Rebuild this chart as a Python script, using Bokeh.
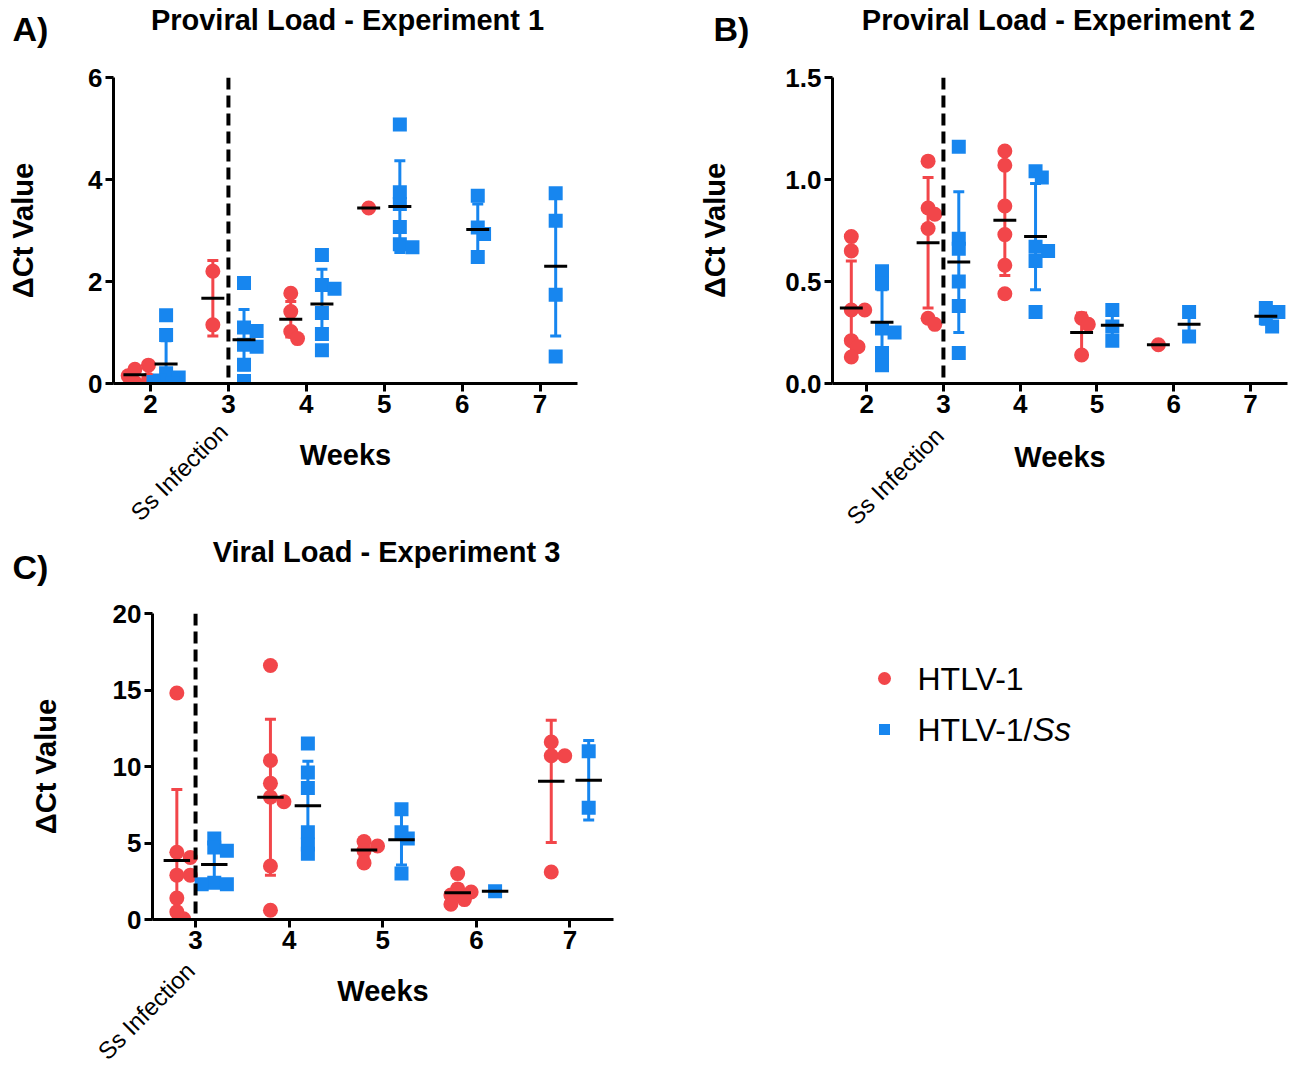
import math
from bokeh.plotting import figure
from bokeh.models import Span, Label, Range1d, FixedTicker, NumeralTickFormatter, LinearAxis
from bokeh.layouts import column, row
from bokeh.embed import file_html
from bokeh.resources import INLINE

FONT = "Liberation Sans"
RED = "#F2464A"
BLUE = "#1786EF"

infection_week = 3
infection_label = "Ss Infection"
x_label = "Weeks"
y_label = "\u0394Ct Value"
series_names = ["HTLV-1", "HTLV-1/", "Ss"]
titles = ["Proviral Load - Experiment 1", "Proviral Load -  Experiment 2", "Viral Load - Experiment 3"]
letters = ["A)", "B)", "C)"]

# ---------------- Panel A: Proviral Load - Experiment 1 ----------------
A_weeks = [2, 3, 4, 5, 6, 7]
A_htlv = [[0.02, 0.08, 0.15, 0.28, 0.36], [2.20, 1.15], [1.77, 1.41, 1.02, 0.88], [3.44], [], []]
A_htlv_mean = [0.17, 1.67, 1.26, 3.44, None, None]
A_htlv_sd = [0.14, 0.74, 0.35, 0.0, None, None]
A_ss = [[1.34, 0.95, 0.20, 0.12, 0.06, 0.03, 0.0],
        [1.97, 1.10, 1.03, 0.76, 0.72, 0.37, 0.05],
        [2.52, 1.93, 1.86, 1.38, 0.97, 0.65],
        [5.08, 3.75, 3.52, 3.07, 2.73, 2.67],
        [3.68, 3.06, 2.93, 2.48],
        [3.73, 3.19, 1.74, 0.53]]
A_ss_mean = [0.38, 0.86, 1.56, 3.47, 3.02, 2.30]
A_ss_sd = [0.46, 0.59, 0.68, 0.90, 0.50, 1.37]
A_yticks = [0, 2, 4, 6]

# ---------------- Panel B: Proviral Load - Experiment 2 ----------------
B_weeks = [2, 3, 4, 5, 6, 7]
B_htlv = [[0.72, 0.65, 0.36, 0.36, 0.21, 0.18, 0.13],
          [1.09, 0.86, 0.83, 0.76, 0.32, 0.29],
          [1.14, 1.07, 0.87, 0.73, 0.58, 0.44],
          [0.32, 0.29, 0.14],
          [0.19],
          []]
B_htlv_mean = [0.37, 0.69, 0.80, 0.25, 0.19, None]
B_htlv_sd = [0.23, 0.32, 0.27, 0.095, 0.0, None]
B_ss = [[0.55, 0.49, 0.27, 0.25, 0.15, 0.09],
        [1.16, 0.71, 0.66, 0.50, 0.38, 0.15],
        [1.04, 1.01, 0.67, 0.65, 0.60, 0.35],
        [0.36, 0.28, 0.21],
        [0.35, 0.23],
        [0.37, 0.35, 0.32, 0.28]]
B_ss_mean = [0.30, 0.595, 0.72, 0.285, 0.29, 0.33]
B_ss_sd = [0.16, 0.345, 0.26, 0.05, 0.06, 0.04]
B_yticks = [0, 0.5, 1.0, 1.5]

# ---------------- Panel C: Viral Load - Experiment 3 ----------------
C_weeks = [3, 4, 5, 6, 7]
C_htlv = [[14.8, 4.4, 4.05, 2.9, 2.9, 1.4, 0.5, 0.05],
          [16.6, 10.4, 8.9, 8.0, 7.7, 3.5, 0.6],
          [5.1, 4.8, 4.5, 3.7],
          [3.0, 2.0, 1.8, 1.6, 1.3, 1.0],
          [11.6, 10.7, 10.7, 3.1]]
C_htlv_mean = [3.85, 7.99, 4.55, 1.75, 9.03]
C_htlv_sd = [4.65, 5.1, 0.5, 0.5, 4.0]
C_ss = [[5.3, 4.7, 4.5, 2.4, 2.3, 2.3],
        [11.5, 9.6, 8.6, 5.7, 4.9, 4.3],
        [7.2, 5.7, 5.3, 3.0],
        [1.85],
        [11.0, 7.3]]
C_ss_mean = [3.59, 7.44, 5.22, 1.85, 9.1]
C_ss_sd = [1.39, 2.9, 1.65, 0.0, 2.6]
C_yticks = [0, 5, 10, 15, 20]


def style_axis(ax):
    ax.axis_line_width = 3
    ax.axis_line_color = "black"
    ax.major_tick_line_width = 3
    ax.major_tick_line_color = "black"
    ax.major_tick_out = 8
    ax.major_tick_in = 0
    ax.minor_tick_line_color = None
    ax.major_label_text_font = FONT
    ax.major_label_text_font_size = "26px"
    ax.major_label_text_font_style = "bold"
    ax.major_label_text_color = "black"
    ax.major_label_standoff = 3
    ax.axis_label_text_font = FONT
    ax.axis_label_text_font_size = "29px"
    ax.axis_label_text_font_style = "bold"
    ax.axis_label_text_color = "black"


def spread(vals, ppu_y, ppu_x, size):
    placed, offs = [], []
    for v in vals:
        y = v * ppu_y
        xo = 0.0
        for k in [0, 1, -1, 2, -2]:
            xo = k * size * 0.45
            if all((xo - px) ** 2 + (y - py) ** 2 >= (size * 0.6) ** 2 for px, py in placed):
                break
        placed.append((xo, y))
        offs.append(xo / ppu_x)
    return offs


def make_panel(g, weeks, red, red_m, red_sd, blue, blue_m, blue_sd, yticks, fmt=None):
    xr, yr = g["xr"], g["yr"]
    p = figure(width=g["w"], height=g["h"],
               min_border_left=g["left"], min_border_right=g["right"],
               min_border_top=g["top"], min_border_bottom=g["bottom"],
               x_range=Range1d(*xr), y_range=Range1d(*yr),
               output_backend="svg", toolbar_location=None, tools="")
    p.xgrid.visible = False
    p.ygrid.visible = False
    p.outline_line_color = None
    p.xaxis.ticker = FixedTicker(ticks=weeks)
    p.yaxis.ticker = FixedTicker(ticks=yticks)
    if fmt:
        p.yaxis.formatter = NumeralTickFormatter(format=fmt)
    p.yaxis.axis_label = y_label
    style_axis(p.xaxis[0])
    style_axis(p.yaxis[0])
    p.yaxis[0].axis_label_standoff = g["ystand"]

    fw = g["w"] - g["left"] - g["right"]
    fh = g["h"] - g["top"] - g["bottom"]
    ppu_x = fw / (xr[1] - xr[0])
    ppu_y = fh / (yr[1] - yr[0])

    # rotated infection label + "Weeks" title on a secondary, line-less axis
    lab_at = infection_week + g["ssdx"] / ppu_x
    ax2 = LinearAxis(ticker=FixedTicker(ticks=[lab_at]),
                     major_label_overrides={lab_at: infection_label},
                     major_label_orientation=math.pi / 4,
                     axis_line_color=None, major_tick_line_color=None,
                     minor_tick_line_color=None, major_tick_out=0, major_tick_in=0,
                     major_label_standoff=g["s2"],
                     major_label_text_font=FONT, major_label_text_font_size="24px",
                     major_label_text_color="black",
                     axis_label=x_label, axis_label_standoff=g["t2"],
                     axis_label_text_font=FONT, axis_label_text_font_size="29px",
                     axis_label_text_font_style="bold", axis_label_text_color="black")
    p.add_layout(ax2, "below")

    dodge = 0.2
    mean_hw = 11.5 / ppu_x * g.get("mscale", 1.0)
    cap_hw = 5.5 / ppu_x

    p.add_layout(Span(location=infection_week, dimension="height", line_color="black",
                      line_width=4, line_dash="12 6"))

    for pts, means, sds, sign, color, marker, size in [
        (red, red_m, red_sd, -1, RED, "circle", 15),
        (blue, blue_m, blue_sd, 1, BLUE, "square", 14),
    ]:
        ex, ey0, ey1, cx0, cx1, cy = [], [], [], [], [], []
        sx, sy = [], []
        mx0, mx1, my = [], [], []
        for wk, vals, m, sd in zip(weeks, pts, means, sds):
            if not vals:
                continue
            xc = wk + sign * dodge
            offs = spread(vals, ppu_y, ppu_x, size)
            sx += [xc + o for o in offs]
            sy += vals
            if m is None:
                continue
            mx0.append(xc - mean_hw); mx1.append(xc + mean_hw); my.append(m)
            if sd and sd > 0:
                ex.append(xc); ey0.append(m - sd); ey1.append(m + sd)
                for yy in (m - sd, m + sd):
                    cx0.append(xc - cap_hw); cx1.append(xc + cap_hw); cy.append(yy)
        p.segment(x0=ex, y0=ey0, x1=ex, y1=ey1, line_color=color, line_width=3)
        p.segment(x0=cx0, y0=cy, x1=cx1, y1=cy, line_color=color, line_width=3)
        p.scatter(sx, sy, marker=marker, size=size, fill_color=color, line_color=None)
        p.segment(x0=mx0, y0=my, x1=mx1, y1=my, line_color="black", line_width=3)
    return p


def blank(w, h, top=0, bottom=0):
    # frame covers [top, h - bottom] in local pixel coordinates (y downwards)
    f = figure(width=w, height=h, x_range=Range1d(0, w), y_range=Range1d(h - bottom, top),
               min_border_left=0, min_border_right=0, min_border_top=top, min_border_bottom=bottom,
               x_axis_type=None, y_axis_type=None,
               output_backend="svg", toolbar_location=None, tools="")
    f.xgrid.visible = False
    f.ygrid.visible = False
    f.outline_line_color = None
    return f


def add_letter(f, text, x, y):
    f.add_layout(Label(x=x, y=y, text=text, text_align="left", text_baseline="middle",
                       text_font=FONT, text_font_size="34px", text_font_style="bold",
                       text_color="black"))


def add_title(f, text, x, y):
    f.add_layout(Label(x=x, y=y, text=text, text_align="center", text_baseline="middle",
                       text_font=FONT, text_font_size="29px", text_font_style="bold",
                       text_color="black"))


gA = dict(w=696, h=484, left=113, right=119, top=27, bottom=151,
          xr=(1.525, 7.48), yr=(0, 6), ystand=46, s2=12, t2=-99, ssdx=-5)
gB = dict(w=604, h=484, left=134, right=13, top=27, bottom=151,
          xr=(1.555, 7.482), yr=(0, 1.5), ystand=51, s2=16, t2=-101, ssdx=-4)
gC = dict(w=708, h=478, left=152, right=95, top=23, bottom=149,
          xr=(2.54, 7.465), yr=(0, 20), ystand=48, s2=15, t2=-102, ssdx=-5, mscale=1.15)

pA = make_panel(gA, A_weeks, A_htlv, A_htlv_mean, A_htlv_sd, A_ss, A_ss_mean, A_ss_sd, A_yticks)
pB = make_panel(gB, B_weeks, B_htlv, B_htlv_mean, B_htlv_sd, B_ss, B_ss_mean, B_ss_sd, B_yticks, fmt="0.0")
pC = make_panel(gC, C_weeks, C_htlv, C_htlv_mean, C_htlv_sd, C_ss, C_ss_mean, C_ss_sd, C_yticks)

# header strips (titles and panel letters)
hTop = blank(1300, 50)
add_letter(hTop, letters[0], 12, 28)
add_title(hTop, titles[0], 347, 19.5)
add_letter(hTop, letters[1], 713, 28)
add_title(hTop, titles[1], 1062, 19.5)

hMid = blank(1300, 56)
add_letter(hMid, letters[2], 12, 32.5)
add_title(hMid, titles[2], 386, 17.5)

# legend panel (same borders as panel C so the row keeps its frames aligned)
pL = blank(592, gC["h"], top=gC["top"], bottom=gC["bottom"])
pL.scatter([176], [88], marker="circle", size=13, fill_color=RED, line_color=None)
pL.scatter([176], [139], marker="square", size=11, fill_color=BLUE, line_color=None)
pL.add_layout(Label(x=209, y=88, text=series_names[0], text_align="left", text_baseline="middle",
                    text_font=FONT, text_font_size="32px", text_color="black"))
pL.add_layout(Label(x=209, y=139, text=series_names[1], text_align="left", text_baseline="middle",
                    text_font=FONT, text_font_size="32px", text_color="black"))
pL.add_layout(Label(x=209 + 115, y=139, text=series_names[2], text_align="left", text_baseline="middle",
                    text_font=FONT, text_font_size="33px", text_font_style="italic",
                    text_color="black"))

layout = column(hTop, row(pA, pB, spacing=0), hMid, row(pC, pL, spacing=0), spacing=0)
open("out.html", "w").write(file_html(layout, INLINE))
